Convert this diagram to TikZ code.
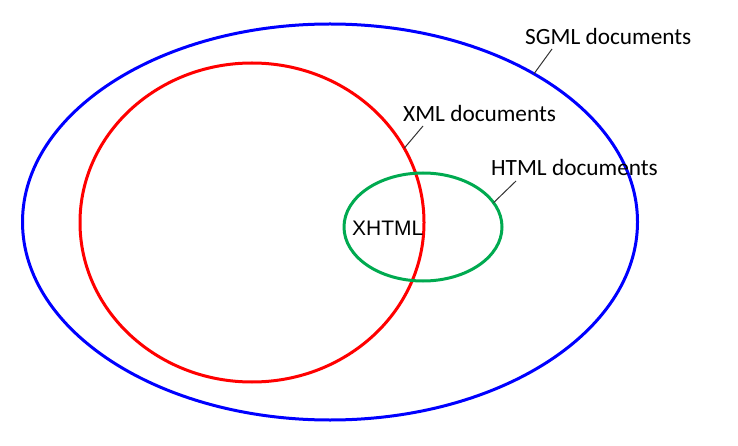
\documentclass[tikz,border=0pt]{standalone}
\usepackage{fontspec}
\setmainfont{Carlito}
\newfontfamily\xhtmlfont{Liberation Sans}
\usetikzlibrary{shapes.geometric}
\definecolor{setblue}{RGB}{0,0,255}
\definecolor{setred}{RGB}{255,0,0}
\definecolor{setgreen}{RGB}{0,170,80}
\tikzset{
  set/.style={ellipse, draw, line width=3pt, inner sep=0pt, outer sep=0pt},
  lbl/.style={anchor=base west, inner sep=0pt, font=\fontsize{23.3}{26}\selectfont},
  leader/.style={draw=black!80, line width=1pt}
}
\begin{document}
\begin{tikzpicture}[x=1pt, y=-1pt]
\useasboundingbox (0,0) rectangle (738,446);
\node[set, draw=setblue, minimum width=615, minimum height=396] (sgml) at (330,222) {};
\node[set, draw=setred, minimum width=344, minimum height=319] (xml) at (252,222.5) {};
\node[set, draw=setgreen, minimum width=158, minimum height=108] (html) at (423,227) {};
\node[lbl] (sgmllbl) at (525,45) {SGML documents};
\node[lbl] (xmllbl) at (403,122) {XML documents};
\node[lbl] (htmllbl) at (491,176) {HTML documents};
\node[anchor=base west, inner sep=0pt, font=\xhtmlfont\fontsize{21}{24}\selectfont] (xhtml) at (352,236) {XHTML};
\coordinate (sgmltip) at (552,49);
\coordinate (xmltip) at (423,126);
\coordinate (htmltip) at (516,181);
\draw[leader] (sgml.36.8) -- (sgmltip);
\draw[leader] (xml.26.3) -- (xmltip);
\draw[leader] (html.19.1) -- (htmltip);
\end{tikzpicture}
\end{document}
